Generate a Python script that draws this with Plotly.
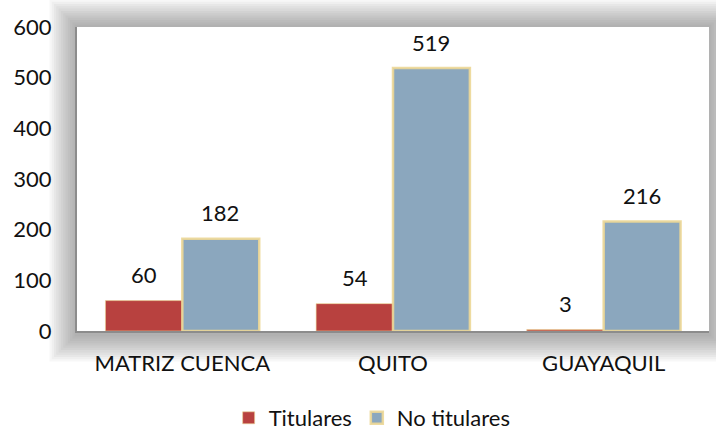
import plotly.graph_objects as go

categories = ["MATRIZ CUENCA", "QUITO", "GUAYAQUIL"]
titulares = [60, 54, 3]
no_titulares = [182, 519, 216]
y_ticks = [0, 100, 200, 300, 400, 500, 600]

FONT = "Lato, 'Open Sans', sans-serif"
FS = 22
W, H = 716, 431
L, R, T, B = 77, 7, 27, 100
pw, ph = W - L - R, H - T - B

fig = go.Figure()
fig.add_trace(go.Bar(
    name="Titulares", x=categories, y=titulares,
    marker=dict(color="#B8413F", line=dict(color="rgba(236,215,150,0.6)", width=1)),
))
fig.add_trace(go.Bar(
    name="No titulares", x=categories, y=no_titulares,
    marker=dict(color="#8BA7BE", line=dict(color="rgba(236,215,150,0.9)", width=2.5)),
))

# data labels
for vals, xs in ((titulares, -38), (no_titulares, 38)):
    for c, v in zip(categories, vals):
        fig.add_annotation(x=c, y=v, text=str(v), showarrow=False, xshift=xs,
                           yshift=26, yanchor="middle",
                           font=dict(family=FONT, size=FS, color="#111"))

# shadow / glow around plot area
shapes = []
n = 12
for i in range(n, 0, -1):
    ex = 2.3 * i
    shapes.append(dict(type="rect", xref="paper", yref="paper", layer="below",
                       x0=-ex / pw, x1=1 + ex / pw,
                       y0=-(ex + 3) / ph, y1=1 + ex / ph,
                       line=dict(width=0), fillcolor="rgba(90,90,90,0.05)"))
shapes.append(dict(type="rect", xref="paper", yref="paper", layer="below",
                   x0=0, x1=1, y0=0, y1=1, line=dict(width=0), fillcolor="white"))

fig.update_layout(
    width=W, height=H,
    margin=dict(l=L, r=R, t=T, b=B, autoexpand=False),
    paper_bgcolor="white", plot_bgcolor="white",
    barmode="group", bargap=0.27, bargroupgap=0,
    font=dict(family=FONT, size=FS, color="#111"),
    shapes=shapes,
    legend=dict(orientation="h", x=0.467, xanchor="center",
                yref="container", y=13 / H, yanchor="middle",
                font=dict(family=FONT, size=FS, color="#111"), itemwidth=30,
                traceorder="normal"),
    xaxis=dict(showgrid=False, showline=True, linecolor="#8c8c8c", linewidth=2,
               ticks="outside", ticklen=12, tickcolor="rgba(0,0,0,0)", automargin=False,
               tickfont=dict(family=FONT, size=FS, color="#111")),
    yaxis=dict(range=[0, 600], tickvals=y_ticks, showgrid=False, zeroline=False,
               showline=True, linecolor="#8c8c8c", linewidth=2, automargin=False,
               ticks="outside", ticklen=19, tickcolor="rgba(0,0,0,0)",
               tickfont=dict(family=FONT, size=FS, color="#111")),
)

fig.write_html("out.html", config={"displayModeBar": False},
               post_script="document.body.style.margin='0';document.body.style.overflow='hidden';")
